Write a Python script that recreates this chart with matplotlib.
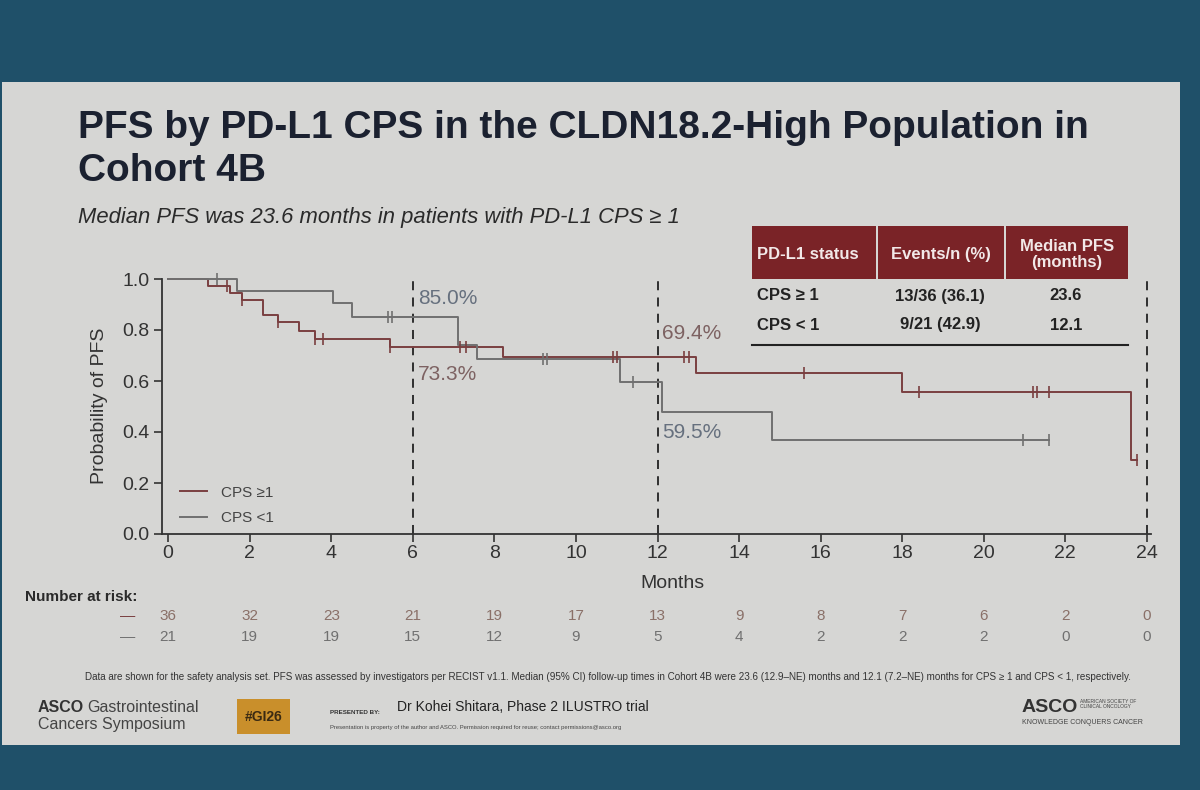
import numpy as np
import matplotlib
matplotlib.use("Agg")
import matplotlib.pyplot as plt
from matplotlib.patches import Rectangle
import matplotlib.transforms as mtransforms

plt.rcParams['font.family'] = ['Liberation Sans', 'DejaVu Sans']

# ---------------- data ----------------
title_line1 = "PFS by PD-L1 CPS in the CLDN18.2-High Population in"
title_line2 = "Cohort 4B"
subtitle = "Median PFS was 23.6 months in patients with PD-L1 CPS \u2265 1"

groups = ["CPS \u22651", "CPS <1"]

# CPS >= 1 (event times / survival after each step)
t_pos = [0, 0.98, 1.52, 1.8, 2.33, 2.7, 3.2, 3.6, 5.45, 8.2, 12.95, 18.0, 23.6]
s_pos = [1.0, 0.972, 0.944, 0.917, 0.86, 0.832, 0.797, 0.766, 0.733, 0.694, 0.63, 0.556, 0.29]
end_pos = 23.75
c_pos = [1.45, 1.8, 2.7, 3.6, 3.8, 5.45, 7.15, 7.3, 10.9, 11.0, 12.65, 12.77,
         15.6, 18.4, 21.2, 21.3, 21.6, 23.75]

# CPS < 1
t_neg = [0, 1.7, 4.05, 4.5, 7.1, 7.57, 11.08, 12.1, 14.8]
s_neg = [1.0, 0.952, 0.905, 0.85, 0.74, 0.687, 0.595, 0.48, 0.37]
end_neg = 21.6
c_neg = [1.2, 5.4, 5.5, 9.2, 9.3, 11.4, 20.95, 21.6]

landmarks = [6, 12, 24]
landmark_labels = [(6, 0.925, "85.0%", 1), (6, 0.624, "73.3%", 0),
                   (12, 0.788, "69.4%", 0), (12, 0.40, "59.5%", 1)]

risk_times = [0, 2, 4, 6, 8, 10, 12, 14, 16, 18, 20, 22, 24]
risk_pos = [36, 32, 23, 21, 19, 17, 13, 9, 8, 7, 6, 2, 0]
risk_neg = [21, 19, 19, 15, 12, 9, 5, 4, 2, 2, 2, 0, 0]

table_header = ["PD-L1 status", "Events/n (%)", "Median PFS\n(months)"]
table_rows = [["CPS \u2265 1", "13/36 (36.1)", "23.6"],
              ["CPS < 1", "9/21 (42.9)", "12.1"]]

footnote = ("Data are shown for the safety analysis set. PFS was assessed by investigators per RECIST v1.1. "
            "Median (95% CI) follow-up times in Cohort 4B were 23.6 (12.9\u2013NE) months and 12.1 (7.2\u2013NE) "
            "months for CPS \u2265 1 and CPS < 1, respectively.")

# ---------------- styling ----------------
W, H = 1200, 790
C_POS = "#7a3f40"
C_NEG = "#707070"
BG = "#1f5069"
SLIDE = "#d6d6d4"
TXT = "#2a2a2a"

fig = plt.figure(figsize=(W / 100, H / 100), dpi=100)
fig.patch.set_facecolor(BG)


def px(x, y):
    return x / W, 1 - y / H


def ftext(x, y, s, **kw):
    fx, fy = px(x, y)
    return fig.text(fx, fy, s, **kw)


# slide
fig.patches.append(Rectangle(px(2, 745), 1178 / W, 663 / H, transform=fig.transFigure,
                             facecolor=SLIDE, edgecolor="none", zorder=-5))

# title
ftext(78, 128, title_line1, fontsize=28, fontweight="bold", color="#1b2130", va="center")
ftext(78, 171, title_line2, fontsize=28, fontweight="bold", color="#1b2130", va="center")
ftext(78, 217, subtitle, fontsize=15.8, style="italic", color=TXT, va="center")

# ---------------- KM axes ----------------
ax_l, ax_r, ax_t, ax_b = 162, 1151, 279, 534
ax = fig.add_axes([ax_l / W, 1 - ax_b / H, (ax_r - ax_l) / W, (ax_b - ax_t) / H])
ax.set_zorder(2)
ax.set_facecolor("none")
ax.set_xlim(-0.15, 24.1)
ax.set_ylim(0, 1.0)
for sp in ["top", "right"]:
    ax.spines[sp].set_visible(False)
for sp in ["left", "bottom"]:
    ax.spines[sp].set_color("#333333")
    ax.spines[sp].set_linewidth(1.3)
ax.set_xticks(risk_times)
ax.set_yticks([0, 0.2, 0.4, 0.6, 0.8, 1.0])
ax.set_yticklabels(["0.0", "0.2", "0.4", "0.6", "0.8", "1.0"])
ax.tick_params(axis="y", labelsize=14, colors="#333333", length=6, width=1.2, pad=3)
ax.tick_params(axis="x", labelsize=14, colors="#333333", length=6, width=1.2, pad=2)


def km(ax, t, s, end, cens, color, label):
    tt = list(t) + [end]
    ss = list(s) + [s[-1]]
    ln, = ax.step(tt, ss, where="post", color=color, lw=1.4, label=label, clip_on=False, zorder=3)
    idx = np.searchsorted(np.array(t), np.array(cens), side="right") - 1
    cy = np.array(s)[idx]
    ax.plot(cens, cy, linestyle="none", marker="|", markersize=9, mew=1.2, color=color,
            clip_on=False, zorder=4)
    return ln


l1 = km(ax, t_pos, s_pos, end_pos, c_pos, C_POS, groups[0])
l2 = km(ax, t_neg, s_neg, end_neg, c_neg, C_NEG, groups[1])

ax.vlines(landmarks, 0, 1.02, colors="#222222", linestyles=(0, (5, 4)), lw=1.3, clip_on=False, zorder=2)

lab_colors = {0: "#7d6262", 1: "#66707e"}
for x, y, s, c in landmark_labels:
    ax.text(x + 0.12, y, s, fontsize=15, color=lab_colors[c], va="center", ha="left")

leg = ax.legend(handles=[l1, l2], loc="upper left", bbox_to_anchor=(0.018, 0.19),
                frameon=False, fontsize=11, handlelength=1.8, handletextpad=0.9,
                labelspacing=0.75, borderpad=0, borderaxespad=0)
for t in leg.get_texts():
    t.set_color("#444444")

ftext(100, 406, "Probability of PFS", fontsize=14, rotation=90, ha="center", va="center", color="#333333")
ftext(672, 583, "Months", fontsize=14, ha="center", va="center", color="#333333")

# ---------------- number at risk ----------------
ftext(25, 597, "Number at risk:", fontsize=11, fontweight="bold", color=TXT, va="center")
trans = mtransforms.blended_transform_factory(ax.transData, fig.transFigure)
for row, y, col, dcol in [(risk_pos, 616, "#8a7068", C_POS), (risk_neg, 637, "#707070", C_NEG)]:
    ftext(128, y, "\u2014", fontsize=11, color=dcol, ha="center", va="center")
    for t, n in zip(risk_times, row):
        ax.text(t, 1 - y / H, str(n), transform=trans, fontsize=11, color=col,
                ha="center", va="center")

# ---------------- table ----------------
col_edges = [(752, 876), (878, 1004), (1006, 1128)]
hy0, hy1 = 226, 279
for (x0, x1), h in zip(col_edges, table_header):
    fig.patches.append(Rectangle(px(x0, hy1), (x1 - x0) / W, (hy1 - hy0) / H,
                                 transform=fig.transFigure, facecolor="#7a2327",
                                 edgecolor="none", zorder=1))
    if x0 == 752:
        ftext(x0 + 5, (hy0 + hy1) / 2 + 2, h, fontsize=12, fontweight="bold", color="#f2e8e8",
              ha="left", va="center")
    else:
        ftext((x0 + x1) / 2, (hy0 + hy1) / 2 + 2, h, fontsize=12, fontweight="bold",
              color="#f2e8e8", ha="center", va="center", linespacing=1.15)
for r, y in zip(table_rows, [296, 325]):
    ftext(757, y, r[0], fontsize=12, fontweight="bold", color="#222222", ha="left", va="center")
    ftext(940, y, r[1], fontsize=12, fontweight="bold", color="#222222", ha="center", va="center")
    ftext(1066, y, r[2], fontsize=12, fontweight="bold", color="#222222", ha="center", va="center")
fig.add_artist(plt.Line2D([752 / W, 1128 / W], [1 - 345 / H] * 2, transform=fig.transFigure,
                          color="#222222", lw=1.5))

# ---------------- footnote & footer ----------------
ftext(85, 677, footnote, fontsize=7.1, color="#333333", va="center")

ftext(38, 707, "ASCO", fontsize=11.5, fontweight="bold", color="#333333", va="center")
ftext(87, 707, "Gastrointestinal", fontsize=11.5, color="#444444", va="center")
ftext(38, 724, "Cancers Symposium", fontsize=11.5, color="#444444", va="center")
fig.patches.append(Rectangle(px(237, 734), 53 / W, 35 / H, transform=fig.transFigure,
                             facecolor="#c98f2b", edgecolor="none", zorder=1))
ftext(263.5, 717, "#GI26", fontsize=10, fontweight="bold", color="#3a2a12", ha="center", va="center")
ftext(330, 712, "PRESENTED BY:", fontsize=4.5, fontweight="bold", color="#333333", va="center")
ftext(397, 707, "Dr Kohei Shitara, Phase 2 ILUSTRO trial", fontsize=10, color="#222222", va="center")
ftext(330, 728, "Presentation is property of the author and ASCO. Permission required for reuse; contact permissions@asco.org",
      fontsize=4.2, color="#444444", va="center")
ftext(1022, 708, "ASCO", fontsize=14, fontweight="bold", color="#333333", va="center")
ftext(1080, 704, "AMERICAN SOCIETY OF\nCLINICAL ONCOLOGY", fontsize=3.5, color="#444444",
      va="center", linespacing=1.1)
ftext(1022, 723, "KNOWLEDGE CONQUERS CANCER", fontsize=5, color="#444444", va="center")

fig.savefig("out.png", dpi=100, facecolor=fig.get_facecolor())
